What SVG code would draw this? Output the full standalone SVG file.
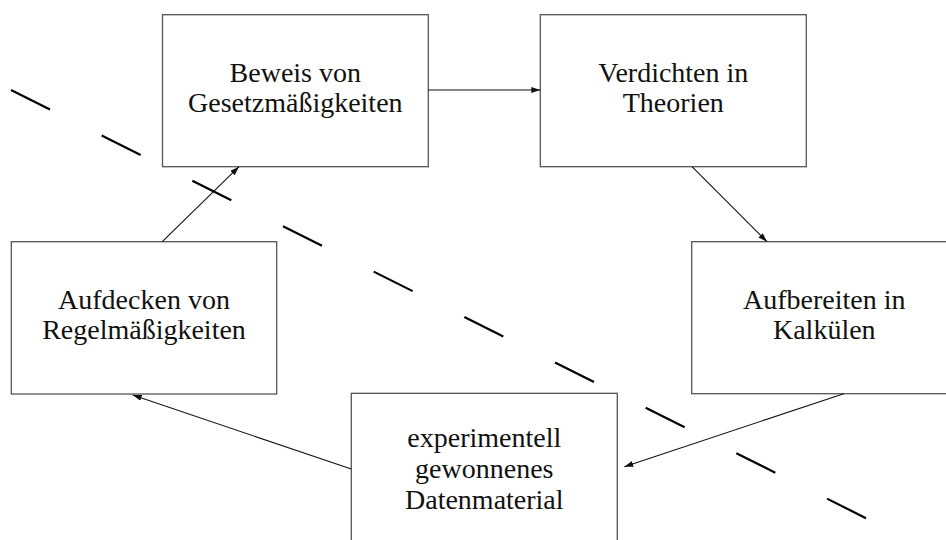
<svg xmlns="http://www.w3.org/2000/svg" width="946" height="540" viewBox="0 0 946 540">
<style>
.box{fill:#fff;stroke:#555;stroke-width:1.3}
.lbl{font-family:"Liberation Serif","DejaVu Serif",serif;font-size:28px;fill:#111;text-anchor:middle}
.conn{stroke:#111;stroke-width:1.1;fill:none}
.dash{stroke:#000;stroke-width:2.2;fill:none;stroke-dasharray:43.6 57.8}
</style>
<defs>
<marker id="arr" markerUnits="userSpaceOnUse" markerWidth="10" markerHeight="8" refX="9" refY="3" orient="auto">
<path d="M0,0 L9,3 L0,6 z" fill="#111"/>
</marker>
</defs>
<rect width="946" height="540" fill="#fff"/>
<g id="n-beweis">
<rect class="box" x="162.5" y="14.7" width="265.8" height="152"/>
<text class="lbl" x="295.3" y="81.7">Beweis von</text>
<text class="lbl" x="295.3" y="111.7">Gesetzmäßigkeiten</text>
</g>
<g id="n-verdichten">
<rect class="box" x="540.3" y="14.7" width="266" height="152"/>
<text class="lbl" x="673.3" y="81.7">Verdichten in</text>
<text class="lbl" x="673.3" y="111.7">Theorien</text>
</g>
<g id="n-aufdecken">
<rect class="box" x="11.3" y="241.7" width="265.4" height="152.3"/>
<text class="lbl" x="144" y="309">Aufdecken von</text>
<text class="lbl" x="144" y="339">Regelmäßigkeiten</text>
</g>
<g id="n-aufbereiten">
<rect class="box" x="691.7" y="241.7" width="265.4" height="152"/>
<text class="lbl" x="824.3" y="309">Aufbereiten in</text>
<text class="lbl" x="824.3" y="339">Kalkülen</text>
</g>
<g id="n-daten">
<rect class="box" x="351.3" y="393.3" width="266" height="152"/>
<text class="lbl" x="484.3" y="447">experimentell</text>
<text class="lbl" x="484.3" y="477.5">gewonnenes</text>
<text class="lbl" x="484.3" y="508.5">Datenmaterial</text>
</g>
<g id="connectors">
<line class="conn" x1="428.3" y1="90" x2="540.3" y2="90" marker-end="url(#arr)"/>
<line class="conn" x1="692" y1="166.7" x2="767" y2="241.7" marker-end="url(#arr)"/>
<line class="conn" x1="843.7" y1="393.7" x2="624.3" y2="466.7" marker-end="url(#arr)"/>
<line class="conn" x1="351.3" y1="469" x2="132.7" y2="395" marker-end="url(#arr)"/>
<line class="conn" x1="162.3" y1="241.7" x2="239" y2="166.7" marker-end="url(#arr)"/>
</g>
<line class="dash" x1="11" y1="90" x2="866.3" y2="518.3"/>
</svg>
